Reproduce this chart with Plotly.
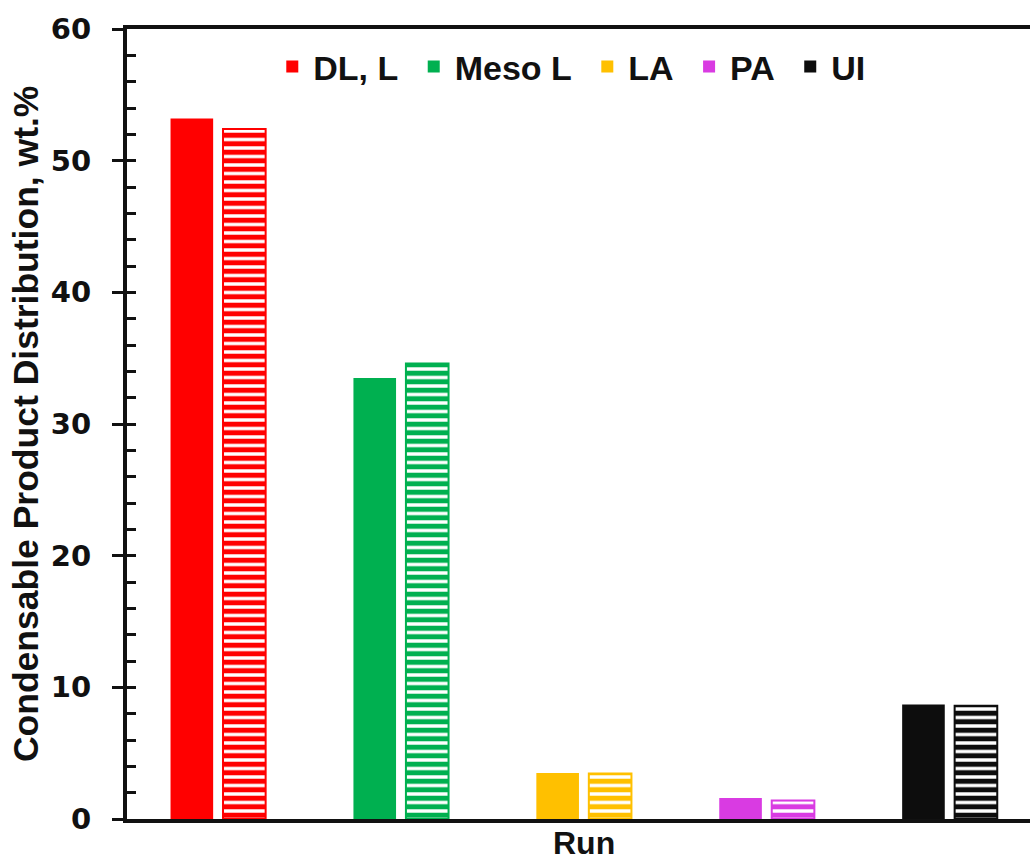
import plotly.graph_objects as go

# Product categories and the two runs (solid = first run, striped = second run)
categories = ["DL, L", "Meso L", "LA", "PA", "UI"]
run_solid = [53.2, 33.5, 3.5, 1.6, 8.7]
run_striped = [52.4, 34.6, 3.45, 1.4, 8.6]
colors = ["#FF0000", "#00B050", "#FFC000", "#D93BE2", "#0D0D0D"]
y_ticks = [0, 10, 20, 30, 40, 50, 60]

BAR_W = 0.233
SANS_BOLD = dict(family="Liberation Sans, Arial, sans-serif", color="#111111", weight="bold")

fig = go.Figure()
for i, (cat, a, b, c) in enumerate(zip(categories, run_solid, run_striped, colors)):
    fig.add_bar(
        x=[i], y=[a], width=BAR_W, offset=-0.262, name=cat + "\u00a0", legendgroup=cat,
        marker=dict(color=c, line=dict(width=0)),
    )
    fig.add_bar(
        x=[i], y=[b], width=BAR_W, offset=0.025, name=cat, legendgroup=cat,
        showlegend=False,
        marker=dict(
            color="white", line=dict(color=c, width=2),
            pattern=dict(shape="-", fgcolor=c, bgcolor="white", size=8.5,
                         solidity=0.6, fillmode="replace"),
        ),
    )

fig.update_layout(
    width=1030, height=860,
    margin=dict(l=127, r=0, t=29, b=41),
    paper_bgcolor="white", plot_bgcolor="white",
    barmode="overlay",
    showlegend=True,
    legend=dict(
        orientation="h", x=0.497, xanchor="center", y=0.952, yanchor="middle",
        bgcolor="rgba(0,0,0,0)", font=dict(**SANS_BOLD, size=34),
        itemwidth=32, traceorder="normal",
    ),
    xaxis=dict(
        range=[-0.5, 4.437], showline=True, linewidth=4, linecolor="#111111",
        mirror=True, ticks="", showticklabels=False, showgrid=False, zeroline=False,
    ),
    yaxis=dict(
        range=[0, 60], tickvals=y_ticks, ticks="outside", ticklen=11, tickwidth=3,
        tickcolor="#111111", showline=True, linewidth=4, linecolor="#111111",
        showgrid=False, zeroline=False, ticklabelstandoff=15,
        tickfont=dict(family="DejaVu Sans, sans-serif", size=29, color="#111111", weight="bold"),
    ),
    yaxis2=dict(
        overlaying="y", matches="y", anchor="x", side="left",
        tick0=0, dtick=2, ticks="inside", ticklen=9, tickwidth=3, tickcolor="#111111",
        showticklabels=False, showline=False, showgrid=False, zeroline=False,
    ),
    annotations=[
        dict(text="Condensable Product Distribution, wt.%", textangle=-90,
             xref="paper", yref="paper", x=-0.112, y=0.501,
             xanchor="center", yanchor="middle", showarrow=False,
             font=dict(**SANS_BOLD, size=35.5)),
        dict(text="Run", xref="x", yref="paper", x=2, y=-0.031,
             xanchor="center", yanchor="middle", showarrow=False,
             font=dict(**SANS_BOLD, size=32)),
    ],
)

# empty trace so the overlaid minor-tick axis is drawn
fig.add_scatter(x=[], y=[], yaxis="y2", showlegend=False, hoverinfo="skip")

fig.write_html("out.html")
